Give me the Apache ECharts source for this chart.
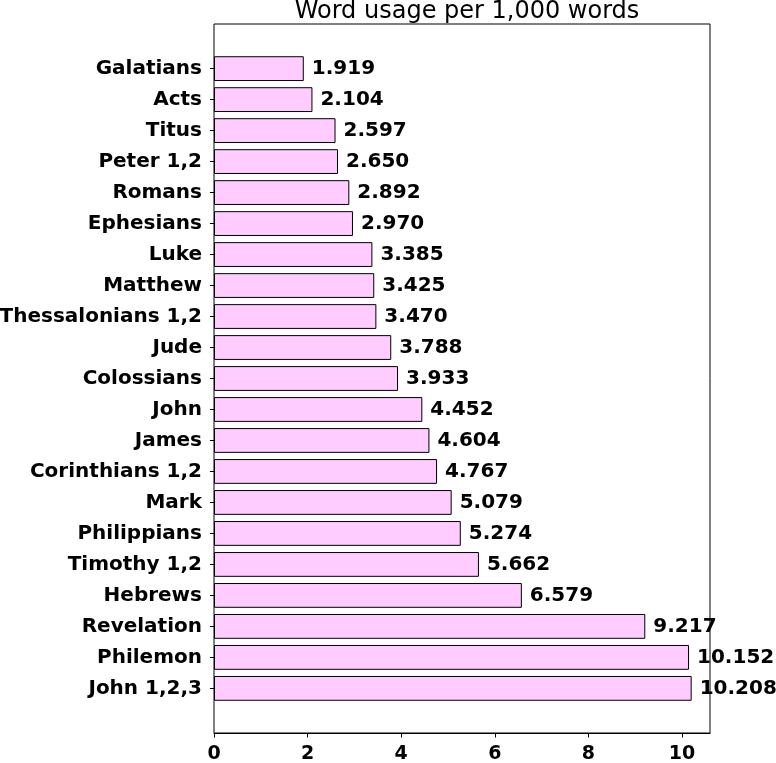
<!DOCTYPE html>
<html>
<head>
<meta charset="utf-8">
<script src="https://cdn.jsdelivr.net/npm/echarts@6/dist/echarts.min.js"></script>
<style>
  html, body { margin: 0; padding: 0; background: #fff; }
  #chart { width: 776px; height: 763px; }
</style>
</head>
<body>
<div id="chart"></div>
<script>
var books = ['Galatians', 'Acts', 'Titus', 'Peter 1,2', 'Romans', 'Ephesians', 'Luke', 'Matthew',
    'Thessalonians 1,2', 'Jude', 'Colossians', 'John', 'James', 'Corinthians 1,2', 'Mark',
    'Philippians', 'Timothy 1,2', 'Hebrews', 'Revelation', 'Philemon', 'John 1,2,3']
var usage = [1.919, 2.104, 2.597, 2.650, 2.892, 2.970, 3.385, 3.425,
    3.470, 3.788, 3.933, 4.452, 4.604, 4.767, 5.079,
    5.274, 5.662, 6.579, 9.217, 10.152, 10.208]
var xTicks = [0, 2, 4, 6, 8, 10]

var font = 'DejaVu Sans'
var chart = echarts.init(document.getElementById('chart'))

// plot frame spans a bit more than the bars (matplotlib style margins)
var frame = { left: 214, right: 66, top: 24, bottom: 30 }
var band = (763 - frame.top - frame.bottom) / (books.length + 1.88)
var pad = 1.44 * band - band / 2

var option = {
    animation: false,
    title: {
        text: 'Word usage per 1,000 words',
        left: frame.left + (776 - frame.left - frame.right) / 2,
        textAlign: 'center',
        top: -5,
        textStyle: { fontFamily: font, fontWeight: 'normal', fontSize: 24, color: '#000' }
    },
    grid: [{
        left: frame.left, right: frame.right,
        top: frame.top + pad, bottom: frame.bottom + pad,
        outerBoundsMode: 'none'
    }, {
        left: frame.left, right: frame.right, top: frame.top, bottom: frame.bottom,
        outerBoundsMode: 'none',
        show: true, borderColor: '#000', borderWidth: 1, backgroundColor: 'transparent'
    }],
    xAxis: [{
        gridIndex: 0, type: 'value', min: 0, max: 10.6, show: false
    }, {
        gridIndex: 1, type: 'value', min: 0, max: 10.6,
        splitLine: { show: false },
        axisLine: { show: true, lineStyle: { color: '#000' } },
        axisTick: { show: true, length: 4.5, lineStyle: { color: '#000' }, customValues: xTicks },
        axisLabel: {
            customValues: xTicks, margin: 12,
            fontFamily: font, fontWeight: 'bold', fontSize: 19, color: '#000'
        }
    }],
    yAxis: [{
        gridIndex: 0, type: 'category', data: books, inverse: true,
        axisLine: { show: false },
        axisTick: { show: true, alignWithLabel: true, length: 4, lineStyle: { color: '#000' } },
        axisLabel: {
            interval: 0, margin: 12, padding: [4, 0, 0, 0],
            fontFamily: font, fontWeight: 'bold', fontSize: 20, color: '#000'
        }
    }, {
        gridIndex: 1, type: 'value', min: 0, max: 1, show: false
    }],
    series: [{
        type: 'bar',
        xAxisIndex: 0, yAxisIndex: 0,
        data: usage,
        barWidth: '80%',
        itemStyle: { color: '#ffccff', borderColor: '#000', borderWidth: 1 },
        label: {
            show: true, position: 'right', distance: 8, padding: [4, 0, 0, 0],
            formatter: function (p) { return p.value.toFixed(3) },
            fontFamily: font, fontWeight: 'bold', fontSize: 20, color: '#000'
        }
    }]
}
chart.setOption(option)
</script>
</body>
</html>
